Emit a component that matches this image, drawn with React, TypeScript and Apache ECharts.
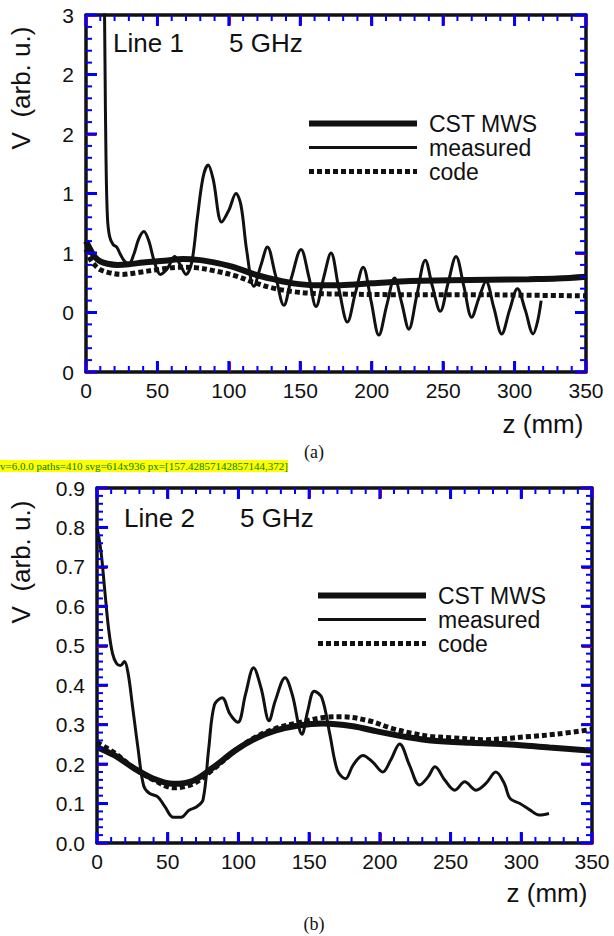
import React, { useEffect, useRef, useState } from "react";
import * as echarts from "echarts";

const measuredAZ = [12.6, 13.3, 14.0, 15.0, 16.5, 19, 21.5, 24, 27, 30, 33.5, 37, 40.5, 44, 48, 52, 57, 62, 66, 70, 74, 78, 82, 85.5, 89, 95, 100, 105, 108.5, 112.5, 117.5, 122.5, 127, 132.5, 138.5, 144, 150.5, 156, 161, 166.5, 171.5, 177, 183, 188.5, 194, 199.5, 205, 210.5, 216, 221, 226, 231.5, 237.5, 242.5, 248, 253.5, 259, 264.5, 270, 275, 280, 285.5, 291, 296.5, 302, 307.5, 313, 316, 318.6];
const measuredAV = [3.5, 2.6, 1.8, 1.3, 1.14, 1.07, 1.05, 0.99, 0.93, 0.91, 0.99, 1.12, 1.18, 1.1, 0.92, 0.82, 0.87, 0.97, 0.9, 0.82, 0.92, 1.3, 1.64, 1.74, 1.62, 1.26, 1.36, 1.5, 1.4, 1.02, 0.72, 0.9, 1.05, 0.82, 0.56, 0.8, 1.03, 0.8, 0.55, 0.8, 1.0, 0.7, 0.42, 0.66, 0.88, 0.6, 0.31, 0.56, 0.79, 0.58, 0.36, 0.64, 0.94, 0.72, 0.51, 0.75, 0.97, 0.72, 0.46, 0.62, 0.76, 0.54, 0.32, 0.52, 0.7, 0.52, 0.32, 0.42, 0.6];
const cstAZ = [0, 3, 6, 10, 15, 22, 30, 40, 55, 68, 80, 92, 104, 118, 131, 145, 160, 178, 200, 227, 255, 282, 310, 330, 350];
const cstAV = [1.1, 1.03, 0.97, 0.93, 0.91, 0.9, 0.905, 0.92, 0.935, 0.95, 0.94, 0.915, 0.88, 0.82, 0.78, 0.745, 0.73, 0.73, 0.745, 0.765, 0.77, 0.775, 0.78, 0.785, 0.8];
const codeAZ = [0, 3, 6, 10, 16, 25, 36, 50, 65, 78, 90, 104, 118, 131, 145, 160, 180, 214, 268, 310, 350];
const codeAV = [1.03, 0.95, 0.9, 0.86, 0.835, 0.82, 0.835, 0.86, 0.88, 0.875, 0.85, 0.81, 0.75, 0.705, 0.675, 0.66, 0.655, 0.65, 0.65, 0.645, 0.64];
const yTickLabelsA = ["0", "0", "1", "1", "2", "2", "3"];

const measuredBZ = [0, 2.8, 5.5, 8.3, 11, 13.8, 16.6, 19.4, 22, 25, 29, 33, 37, 43, 48, 54, 59.5, 65, 70.5, 75, 79, 83, 88.5, 94, 99.6, 105, 110.7, 116, 121.7, 126, 133, 138, 145, 149, 153.6, 159, 164.6, 170, 175.7, 181, 188, 195, 202, 207.5, 214, 221, 228, 234, 239, 246, 253, 260, 268, 275, 282, 288, 292, 299, 306, 312.6, 319.6];
const measuredBV = [0.8, 0.74, 0.64, 0.54, 0.48, 0.455, 0.45, 0.46, 0.43, 0.35, 0.24, 0.145, 0.126, 0.117, 0.092, 0.065, 0.065, 0.083, 0.092, 0.11, 0.24, 0.35, 0.368, 0.327, 0.306, 0.377, 0.444, 0.393, 0.31, 0.36, 0.419, 0.377, 0.276, 0.335, 0.385, 0.368, 0.276, 0.184, 0.163, 0.197, 0.222, 0.205, 0.18, 0.209, 0.251, 0.197, 0.147, 0.167, 0.193, 0.159, 0.134, 0.155, 0.134, 0.151, 0.18, 0.151, 0.113, 0.1, 0.084, 0.071, 0.075];
const cstBZ = [0, 12.5, 26, 40, 54, 68, 81.6, 98, 112, 126, 142.5, 160, 181, 198, 220, 236, 264, 292, 320, 350];
const cstBV = [0.243, 0.222, 0.19, 0.163, 0.15, 0.158, 0.19, 0.235, 0.265, 0.285, 0.298, 0.303, 0.296, 0.283, 0.268, 0.26, 0.254, 0.25, 0.242, 0.234];
const codeBZ = [0, 12.5, 26, 40, 54, 68, 81.6, 98, 112, 126, 142.5, 160, 173, 192, 209, 223, 236, 250, 275, 286, 306, 325, 350];
const codeBV = [0.255, 0.228, 0.19, 0.16, 0.14, 0.15, 0.185, 0.235, 0.268, 0.29, 0.305, 0.318, 0.32, 0.31, 0.29, 0.278, 0.27, 0.267, 0.262, 0.264, 0.27, 0.276, 0.288];

const seriesNames = ["CST MWS", "measured", "code"];
const seriesWidths = [6, 3, 5];
const seriesDash: any[] = ["solid", "solid", [5, 3]];
const xRange = { min: 0, max: 350, interval: 50 };
const yRangeA = { min: 0, max: 3, interval: 0.5 };
const yRangeB = { min: 0, max: 0.9, interval: 0.1 };
const MINOR_SPLIT = 5;

const zip = (xs: number[], ys: number[]) => xs.map((x, i) => [x, ys[i]]);

const FONT = "'Liberation Sans', Arial, Helvetica, sans-serif";
const SERIF = "'Liberation Serif', 'Times New Roman', serif";
const INK = "#111";

const frameLine = { show: true, onZero: false, lineStyle: { color: INK, width: 3.5 } };
const tickStyle = { show: true, inside: true, length: 10, lineStyle: { color: "#ff0000", width: 3 } };

function xAxes(gridIndex: number) {
  const common = { type: "value", gridIndex, ...xRange, axisLine: frameLine, axisTick: tickStyle, splitLine: { show: false } };
  return [
    { ...common, position: "bottom", axisLabel: { show: true, color: INK, fontSize: 21, fontFamily: FONT, margin: 8 } },
    { ...common, position: "top", axisLabel: { show: false } },
  ];
}

function yAxes(gridIndex: number, r: { min: number; max: number; interval: number }, fmt: (v: number, i: number) => string) {
  const common = { type: "value", gridIndex, ...r, axisLine: frameLine, axisTick: tickStyle, splitLine: { show: false } };
  return [
    { ...common, position: "left", axisLabel: { show: true, color: INK, fontSize: 21, fontFamily: FONT, margin: 12, formatter: fmt } },
    { ...common, position: "right", axisLabel: { show: false } },
  ];
}

function seriesFor(idx: number, cst: number[][], meas: number[][], code: number[][]) {
  const base = { type: "line", xAxisIndex: idx * 2, yAxisIndex: idx * 2, showSymbol: false, symbol: "none", smooth: 0.35, clip: true, color: INK };
  return [cst, meas, code].map((d, k) => ({
    ...base,
    name: seriesNames[k],
    data: d,
    lineStyle: { color: INK, width: seriesWidths[k], type: seriesDash[k] },
    z: [3, 4, 2][k],
  }));
}

function tickSeries(gridIndex: number, yr: { min: number; max: number; interval: number }) {
  const out: any[] = [];
  const steps = (lo: number, hi: number, iv: number) => {
    const st = iv / MINOR_SPLIT;
    const n = Math.round((hi - lo) / st);
    const major: number[] = [];
    const minor: number[] = [];
    for (let i = 0; i <= n; i++) (i % MINOR_SPLIT === 0 ? major : minor).push(lo + i * st);
    return { major, minor };
  };
  const xs = steps(xRange.min, xRange.max, xRange.interval);
  const ys = steps(yr.min, yr.max, yr.interval);
  const mk = (data: number[][], size: number[], offset: number[]) => ({
    type: "scatter",
    xAxisIndex: gridIndex * 2,
    yAxisIndex: gridIndex * 2,
    data,
    symbol: "rect",
    symbolSize: size,
    symbolOffset: offset,
    itemStyle: { color: "#0000ff", opacity: 1 },
    silent: true,
    clip: false,
    z: 10,
    tooltip: { show: false },
  });
  ([["major", 11, 3], ["minor", 6, 2]] as [string, number, number][]).forEach(([kind, len, w]) => {
    const xv = (xs as any)[kind] as number[];
    const yv = (ys as any)[kind] as number[];
    out.push(mk(xv.map((v) => [v, yr.min]), [w, len], [0, -len / 2]));
    out.push(mk(xv.map((v) => [v, yr.max]), [w, len], [0, len / 2]));
    out.push(mk(yv.map((v) => [xRange.min, v]), [len, w], [len / 2, 0]));
    out.push(mk(yv.map((v) => [xRange.max, v]), [len, w], [-len / 2, 0]));
  });
  return out;
}

export default function App() {
  const ref = useRef<HTMLDivElement>(null);
  const [dbg, setDbg] = useState("");
  useEffect(() => {
    if (!ref.current) return;
    const chart = echarts.init(ref.current, undefined, { renderer: "svg" });
    const legendCommon = {
      orient: "vertical",
      selectedMode: false,
      data: seriesNames.map((n, k) => ({
        name: n,
        itemStyle: { opacity: 0 },
        lineStyle: { color: INK, width: seriesWidths[k], type: seriesDash[k] },
      })),
      itemWidth: 108,
      itemHeight: 14,
      itemGap: 1,
      textStyle: { color: INK, fontSize: 23, lineHeight: 22, fontFamily: FONT, padding: [0, 0, 0, 7] },
    };
    const texts = [
      { type: "text", x: 113, y: 43, style: { text: "Line 1", font: `26px ${FONT}`, fill: INK, verticalAlign: "middle" } },
      { type: "text", x: 229, y: 43, style: { text: "5 GHz", font: `26px ${FONT}`, fill: INK, verticalAlign: "middle" } },
      { type: "text", x: 124, y: 518, style: { text: "Line 2", font: `26px ${FONT}`, fill: INK, verticalAlign: "middle" } },
      { type: "text", x: 240, y: 518, style: { text: "5 GHz", font: `26px ${FONT}`, fill: INK, verticalAlign: "middle" } },
      { type: "text", x: 21, y: 88, rotation: Math.PI / 2, style: { text: "V  (arb. u.)", font: `26px ${FONT}`, fill: INK, align: "center", verticalAlign: "middle" } },
      { type: "text", x: 21, y: 562, rotation: Math.PI / 2, style: { text: "V  (arb. u.)", font: `26px ${FONT}`, fill: INK, align: "center", verticalAlign: "middle" } },
      { type: "text", x: 543, y: 424, style: { text: "z (mm)", font: `26px ${FONT}`, fill: INK, align: "center", verticalAlign: "middle" } },
      { type: "text", x: 547, y: 893, style: { text: "z (mm)", font: `26px ${FONT}`, fill: INK, align: "center", verticalAlign: "middle" } },
      { type: "text", x: 314, y: 452, style: { text: "(a)", font: `18px ${SERIF}`, fill: INK, align: "center", verticalAlign: "middle" } },
      { type: "text", x: 314, y: 924, style: { text: "(b)", font: `18px ${SERIF}`, fill: INK, align: "center", verticalAlign: "middle" } },
    ];
    let msg = "";
    try {
      chart.setOption({
        animation: false,
        backgroundColor: "#fff",
        grid: [
          { left: 86, top: 15, width: 500, height: 357 },
          { left: 97, top: 488, width: 495, height: 355 },
        ],
        xAxis: [...xAxes(0), ...xAxes(1)],
        yAxis: [
          ...yAxes(0, yRangeA, (_v: number, i: number) => yTickLabelsA[i] ?? ""),
          ...yAxes(1, yRangeB, (v: number) => v.toFixed(1)),
        ],
        legend: [
          { ...legendCommon, left: 301, top: 107 },
          { ...legendCommon, left: 310, top: 579 },
        ],
        series: [
          ...seriesFor(0, zip(cstAZ, cstAV), zip(measuredAZ, measuredAV), zip(codeAZ, codeAV)),
          ...seriesFor(1, zip(cstBZ, cstBV), zip(measuredBZ, measuredBV), zip(codeBZ, codeBV)),
          ...tickSeries(0, yRangeA),
          ...tickSeries(1, yRangeB),
        ],
        graphic: texts,
      });
    } catch (e: any) {
      msg += "ERR " + String(e && e.message);
    }
    const svg = ref.current.querySelector("svg");
    const n = ref.current.querySelectorAll("path").length;
    const p = chart.convertToPixel({ xAxisIndex: 0, yAxisIndex: 0 } as any, [50, 0]);
    msg += ` v=${(echarts as any).version} paths=${n} svg=${svg ? svg.getAttribute("width") + "x" + svg.getAttribute("height") : "none"} px=${JSON.stringify(p)}`;
    setDbg(msg);
    return () => chart.dispose();
  }, []);
  return (
    <>
      <div ref={ref} style={{ position: "absolute", left: 0, top: 0, width: 614, height: 936, background: "#fff" }} />
      <div style={{ position: "absolute", left: 0, top: 460, fontSize: 11, color: "green", background: "#ff0", zIndex: 5 }}>{dbg}</div>
    </>
  );
}
